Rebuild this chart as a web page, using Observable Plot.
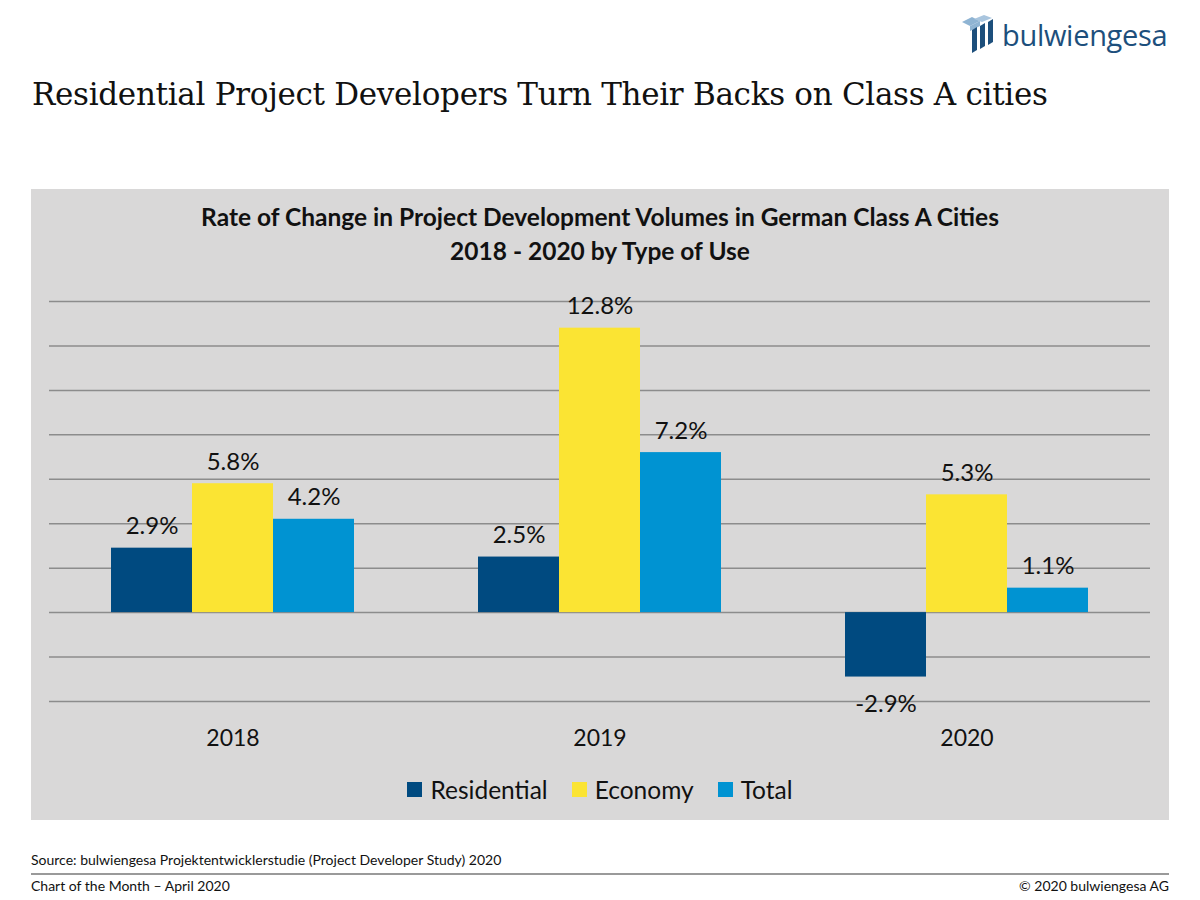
<!DOCTYPE html>
<html>
<head>
<meta charset="utf-8">
<script src="https://cdn.jsdelivr.net/npm/d3@7"></script>
<script src="https://cdn.jsdelivr.net/npm/@observablehq/plot@0.6"></script>
<style>
  html, body { margin:0; padding:0; background:#fff; }
  body { width:1200px; height:900px; position:relative; overflow:hidden; font-family: Lato, "Open Sans", sans-serif; color:#111; }
  .abs { position:absolute; }
  #title { left:32px; top:76px; font-family:"DejaVu Serif", "Liberation Serif", serif; font-size:31px; letter-spacing:-0.3px; color:#111; white-space:nowrap; }
  #panel { left:31px; top:189px; width:1138px; height:631px; background:#d9d8d8; }
  #ctitle { left:0; top:11px; width:1138px; text-align:center; font-weight:bold; font-size:24.5px; line-height:34px; color:#111; }
  #chart { left:0; top:94px; }
  #legend { left:0; top:586px; width:1138px; display:flex; justify-content:center; align-items:center; font-size:24.5px; }
  .li { display:flex; align-items:center; margin:0 12px; }
  .sw { width:15px; height:15px; margin-right:8px; }
  #source { left:31px; top:851px; font-size:14px; color:#111; }
  #rule { left:31px; top:873px; width:1138px; height:2px; background:#9a9a9a; }
  #foot1 { left:31px; top:877px; font-size:14px; }
  #foot2 { right:31px; top:877px; font-size:14px; }
  #logo { left:960px; top:14px; display:flex; align-items:center; }
  #logo span { font-family:"Open Sans", Lato, sans-serif; font-size:29px; color:#1d4f7c; letter-spacing:-0.3px; }
</style>
</head>
<body>
<div id="logo" class="abs">
  <svg width="42" height="40" viewBox="0 0 42 40">
    <polygon points="2,8 12,3 20,7 10,12" fill="#8fb4d3"/>
    <polygon points="10,12 20,7 20,12 10,17" fill="#8fb4d3"/>
    <polygon points="12,16 17,13 17,36 12,39" fill="#1d4f7c"/>
    <polygon points="20,12 25,9 25,32 20,35" fill="#1d4f7c"/>
    <polygon points="28,8 33,5 33,28 28,31" fill="#1d4f7c"/>
    <polygon points="14,5 24,1 32,4 22,8" fill="#a9c5de"/>
  </svg>
  <span>bulwiengesa</span>
</div>
<div id="title" class="abs">Residential Project Developers Turn Their Backs on Class A cities</div>
<div id="panel" class="abs">
  <div id="ctitle" class="abs">Rate of Change in Project Development Volumes in German Class A Cities<br>2018 - 2020 by Type of Use</div>
  <div id="chart" class="abs"></div>
  <div id="legend" class="abs"></div>
</div>
<div id="source" class="abs">Source: bulwiengesa Projektentwicklerstudie (Project Developer Study) 2020</div>
<div id="rule" class="abs"></div>
<div id="foot1" class="abs">Chart of the Month – April 2020</div>
<div id="foot2" class="abs">© 2020 bulwiengesa AG</div>
<script>
const years = ["2018", "2019", "2020"];
const series = ["Residential", "Economy", "Total"];
const residential = [2.9, 2.5, -2.9];
const economy = [5.8, 12.8, 5.3];
const total = [4.2, 7.2, 1.1];
const colors = ["#004a80", "#fbe433", "#0093d2"];
const yTicks = [-4, -2, 0, 2, 4, 6, 8, 10, 12, 14];

const valuesBySeries = [residential, economy, total];
const data = [];
years.forEach((year, i) => {
  series.forEach((s, j) => {
    data.push({year, series: s, value: valuesBySeries[j][i]});
  });
});
const fmt = d => d.value.toFixed(1) + "%";

const chart = Plot.plot({
  width: 1138,
  height: 477,
  marginLeft: 17,
  marginRight: 19,
  marginTop: 18,
  marginBottom: 59,
  style: {background: "transparent", fontFamily: "Lato, 'Open Sans', sans-serif", color: "#111"},
  fx: {domain: years, padding: 0, label: null},
  x: {domain: series, paddingInner: 0, paddingOuter: 0.76, axis: null},
  y: {domain: [-4, 14], axis: null},
  color: {domain: series, range: colors},
  marks: [
    Plot.ruleY(yTicks, {stroke: "#8c8c8c", strokeWidth: 1.5}),
    Plot.barY(data, {fx: "year", x: "series", y: "value", fill: "series"}),
    Plot.text(data.filter(d => d.value >= 0), {fx: "year", x: "series", y: "value", text: fmt, lineAnchor: "bottom", dy: -14, fontSize: 24, fill: "#111"}),
    Plot.text(data.filter(d => d.value < 0), {fx: "year", x: "series", y: "value", text: fmt, lineAnchor: "top", dy: 18, fontSize: 24, fill: "#111"}),
    Plot.axisFx({anchor: "bottom", tickSize: 0, tickPadding: 28, fontSize: 23, label: null})
  ]
});
document.getElementById("chart").appendChild(chart);

const legend = document.getElementById("legend");
series.forEach((s, j) => {
  const item = document.createElement("div");
  item.className = "li";
  const sw = document.createElement("div");
  sw.className = "sw";
  sw.style.background = colors[j];
  const lab = document.createElement("span");
  lab.textContent = s;
  item.appendChild(sw);
  item.appendChild(lab);
  legend.appendChild(item);
});
</script>
</body>
</html>
